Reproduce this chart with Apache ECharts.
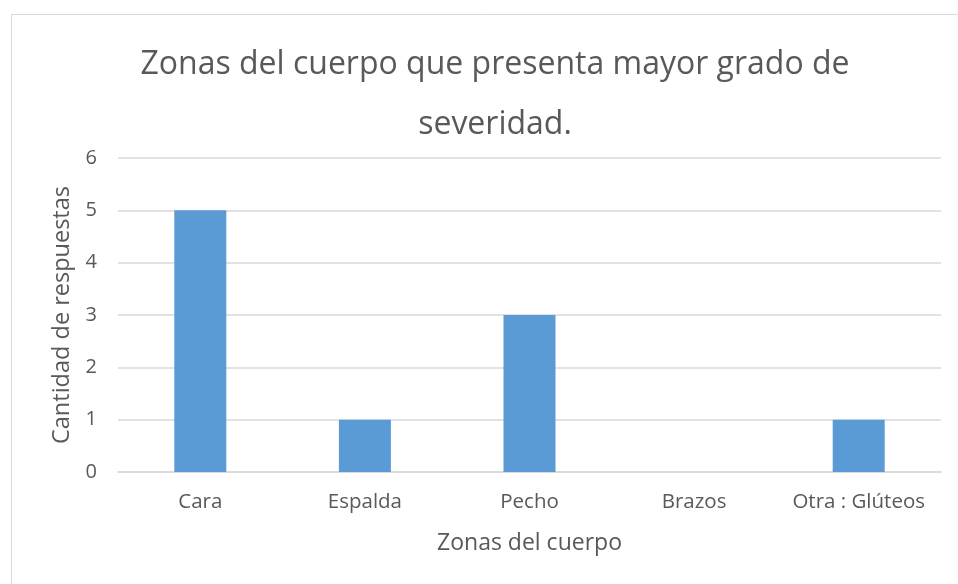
<!DOCTYPE html>
<html>
<head>
<meta charset="utf-8">
<script src="https://cdn.jsdelivr.net/npm/echarts@6/dist/echarts.min.js"></script>
<style>
  html, body { margin: 0; padding: 0; background: #fff; }
  #chart { width: 958px; height: 584px; }
</style>
</head>
<body>
<div id="chart"></div>
<script>
// datos del gráfico
const categories = ['Cara', 'Espalda', 'Pecho', 'Brazos', 'Otra : Glúteos']
const respuestas = [5, 1, 3, 0, 1]

const font = '"Open Sans", sans-serif'
const textColor = '#595959'

const chart = echarts.init(document.getElementById('chart'))
chart.setOption({
  animation: false,
  title: {
    text: 'Zonas del cuerpo que presenta mayor grado de\nseveridad.',
    left: 490,
    top: 30,
    textAlign: 'center',
    textStyle: {
      fontFamily: font,
      fontSize: 32,
      fontWeight: 'normal',
      color: textColor,
      lineHeight: 60
    }
  },
  // marco del gráfico
  graphic: [{
    type: 'rect',
    shape: { x: 11.5, y: 14.5, width: 1000, height: 1000 },
    style: { fill: 'none', stroke: '#d9d9d9', lineWidth: 1 },
    silent: true
  }],
  grid: { left: 118, right: 17, top: 158, bottom: 112 },
  xAxis: {
    type: 'category',
    data: categories,
    name: 'Zonas del cuerpo',
    nameLocation: 'middle',
    nameGap: 60,
    nameTextStyle: { fontFamily: font, fontSize: 23, color: textColor },
    axisLine: { lineStyle: { color: '#d9d9d9', width: 1.5 } },
    axisTick: { show: false },
    axisLabel: { interval: 0, fontFamily: font, fontSize: 20.5, color: textColor, margin: 20 }
  },
  yAxis: {
    type: 'value',
    min: 0,
    max: 6,
    interval: 1,
    name: 'Cantidad de respuestas',
    nameLocation: 'middle',
    nameGap: 44,
    nameTextStyle: { fontFamily: font, fontSize: 23.5, color: textColor },
    axisLine: { show: false },
    axisTick: { show: false },
    axisLabel: { fontFamily: font, fontSize: 20, color: textColor, margin: 21 },
    splitLine: { lineStyle: { color: '#d9d9d9', width: 1.5 } }
  },
  series: [{
    type: 'bar',
    data: respuestas,
    barWidth: 52,
    itemStyle: { color: '#5b9bd5' }
  }]
})
</script>
</body>
</html>
